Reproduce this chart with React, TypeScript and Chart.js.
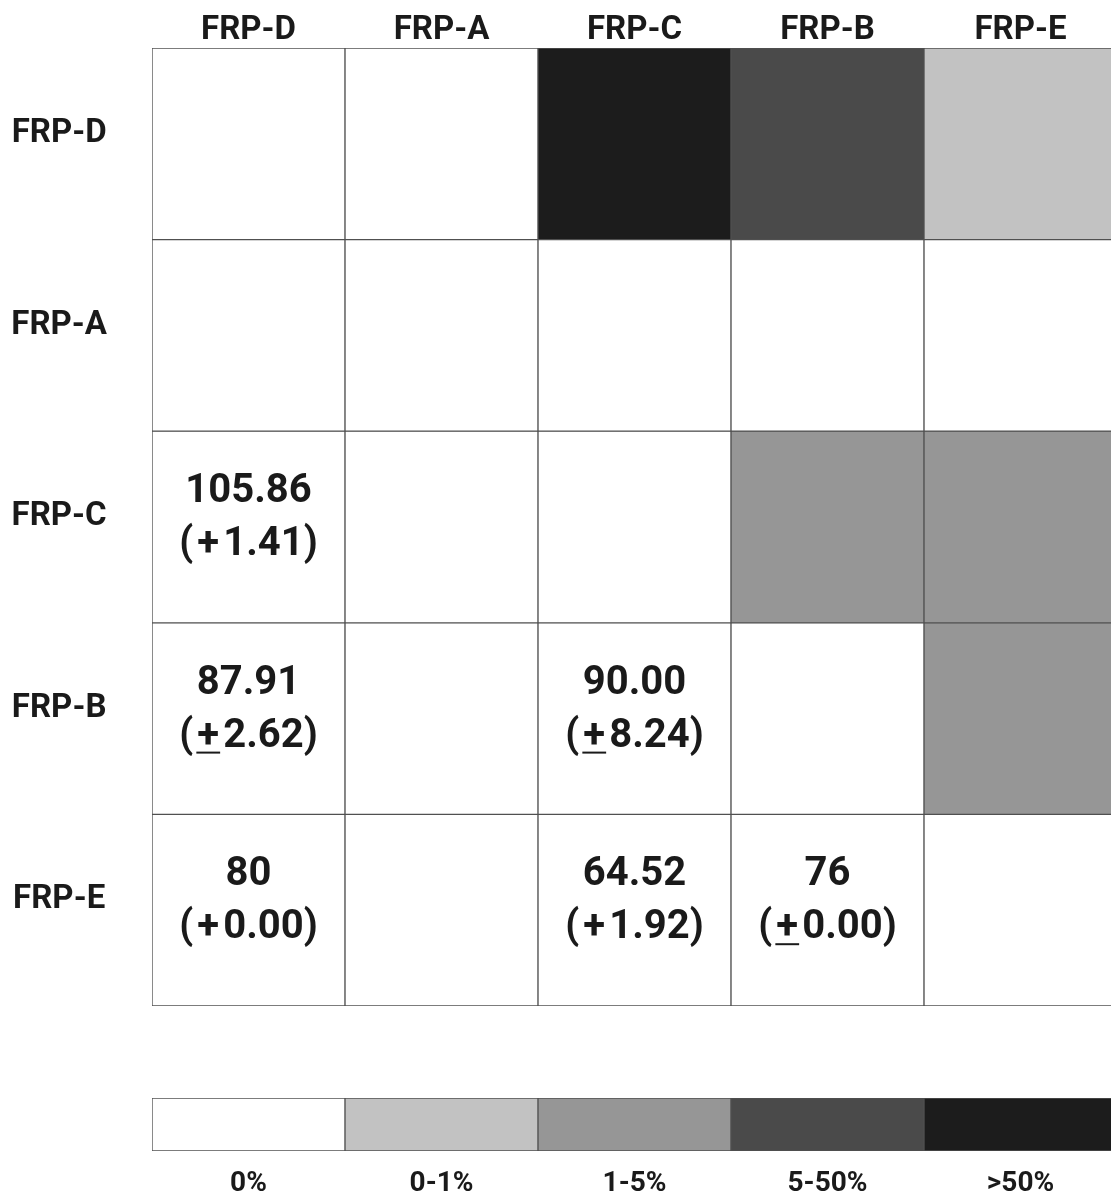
import React, { useEffect, useRef } from "react";
import { Chart, registerables } from "chart.js";

Chart.register(...registerables);

// ---- data ----
const categories = ["FRP-D", "FRP-A", "FRP-C", "FRP-B", "FRP-E"];
const levelLabels = ["0%", "0-1%", "1-5%", "5-50%", ">50%"];

// level index per cell (0 = 0%, 1 = 0-1%, 2 = 1-5%, 3 = 5-50%, 4 = >50%)
const rowD = [0, 0, 4, 3, 1];
const rowA = [0, 0, 0, 0, 0];
const rowC = [0, 0, 0, 2, 2];
const rowB = [0, 0, 0, 0, 2];
const rowE = [0, 0, 0, 0, 0];
const levelRows = [rowD, rowA, rowC, rowB, rowE];

// annotated cells (lower triangle)
const textRows = ["FRP-C", "FRP-B", "FRP-B", "FRP-E", "FRP-E", "FRP-E"];
const textCols = ["FRP-D", "FRP-D", "FRP-C", "FRP-D", "FRP-C", "FRP-B"];
const textMeans = ["105.86", "87.91", "90.00", "80", "64.52", "76"];
const textDevs = ["1.41", "2.62", "8.24", "0.00", "1.92", "0.00"];
const textPlusMinus = [false, true, true, false, false, true];

// ---- styles ----
const levelColors = ["#ffffff", "#c2c2c2", "#969696", "#4a4a4a", "#1c1c1c"];
const FONT = "Roboto, 'Liberation Sans', sans-serif";
const TEXT_COLOR = "#1a1a1a";
const HS = "\u200A";

const cellTextPlugin = {
  id: "cellText",
  afterDatasetsDraw(chart: any) {
    const ctx = chart.ctx;
    ctx.save();
    ctx.fillStyle = TEXT_COLOR;
    ctx.strokeStyle = TEXT_COLOR;
    ctx.font = `bold 40px ${FONT}`;
    ctx.textBaseline = "middle";
    for (let i = 0; i < textMeans.length; i++) {
      const r = categories.indexOf(textRows[i]);
      const c = categories.indexOf(textCols[i]);
      const el: any = chart.getDatasetMeta(r).data[c];
      if (!el) continue;
      const cx = el.x;
      const cy = (el.y + el.base) / 2;
      ctx.textAlign = "center";
      ctx.fillText(textMeans[i], cx, cy - 35);
      const pre = "(" + HS;
      const plus = "+";
      const line2 = pre + plus + HS + textDevs[i] + ")";
      const w = ctx.measureText(line2).width;
      const x0 = cx - w / 2;
      ctx.textAlign = "left";
      ctx.fillText(line2, x0, cy + 18);
      if (textPlusMinus[i]) {
        const wa = ctx.measureText(pre).width;
        const wb = ctx.measureText(pre + plus).width;
        ctx.lineWidth = 2;
        ctx.beginPath();
        ctx.moveTo(x0 + wa - 1, cy + 34);
        ctx.lineTo(x0 + wb + 1, cy + 34);
        ctx.stroke();
      }
    }
    ctx.restore();
  },
};

export default function App() {
  const mainRef = useRef<HTMLCanvasElement>(null);
  const legRef = useRef<HTMLCanvasElement>(null);

  useEffect(() => {
    const datasets = levelRows.map((row, i) => ({
      label: categories[i],
      data: row.map(() => 1),
      backgroundColor: row.map((lv) => levelColors[lv]),
      borderColor: "#505050",
      borderWidth: 1,
      borderSkipped: false,
      barPercentage: 1,
      categoryPercentage: 1,
    }));

    const main = new Chart(mainRef.current!, {
      type: "bar",
      data: { labels: categories, datasets },
      plugins: [cellTextPlugin],
      options: {
        responsive: false,
        animation: false,
        layout: { padding: { top: 0, left: 0, right: 3, bottom: 4 } },
        plugins: { legend: { display: false }, tooltip: { enabled: false } },
        scales: {
          x: {
            position: "top",
            stacked: true,
            grid: { display: false, drawTicks: false },
            border: { display: false },
            ticks: {
              color: TEXT_COLOR,
              font: { family: FONT, size: 33, weight: "bold" },
              padding: -3,
              maxRotation: 0,
            },
            afterFit(axis: any) {
              axis.height = 48;
              axis.paddingLeft = 0;
              axis.paddingRight = 0;
            },
          },
          y: {
            stacked: true,
            reverse: true,
            min: 0,
            max: 5,
            grid: { display: false, drawTicks: false },
            border: { display: false },
            afterBuildTicks(axis: any) {
              axis.ticks = categories.map((_, i) => ({ value: i + 0.5 }));
            },
            ticks: {
              color: TEXT_COLOR,
              font: { family: FONT, size: 33, weight: "bold" },
              crossAlign: "center",
              padding: 45,
              labelOffset: -10,
              callback: (v: any) => categories[Math.floor(Number(v))] ?? "",
            },
            afterFit(axis: any) {
              axis.width = 152;
              axis.paddingTop = 0;
              axis.paddingBottom = 0;
            },
          },
        },
      },
    });

    const legend = new Chart(legRef.current!, {
      type: "bar",
      data: {
        labels: levelLabels,
        datasets: [
          {
            data: levelLabels.map(() => 1),
            backgroundColor: levelColors,
            borderColor: "#505050",
            borderWidth: 1,
            borderSkipped: false,
            barPercentage: 1,
            categoryPercentage: 1,
          },
        ],
      },
      options: {
        responsive: false,
        animation: false,
        layout: { padding: { top: 8, left: 0, right: 3, bottom: 0 } },
        plugins: { legend: { display: false }, tooltip: { enabled: false } },
        scales: {
          x: {
            grid: { display: false, drawTicks: false },
            border: { display: false },
            ticks: {
              color: TEXT_COLOR,
              font: { family: FONT, size: 28, weight: "bold" },
              padding: 16,
              maxRotation: 0,
            },
            afterFit(axis: any) {
              axis.height = 44;
              axis.paddingLeft = 0;
              axis.paddingRight = 0;
            },
          },
          y: {
            display: true,
            min: 0,
            max: 1,
            grid: { display: false, drawTicks: false },
            border: { display: false },
            ticks: { display: false },
            afterFit(axis: any) {
              axis.width = 152;
              axis.paddingTop = 0;
              axis.paddingBottom = 0;
            },
          },
        },
      },
    });

    return () => {
      main.destroy();
      legend.destroy();
    };
  }, []);

  return (
    <div
      style={{
        position: "absolute",
        left: 0,
        top: 0,
        width: 1111,
        height: 1195,
        overflow: "hidden",
        background: "#ffffff",
      }}
    >
      <canvas
        ref={mainRef}
        width={1120}
        height={1010}
        style={{ position: "absolute", left: 0, top: 0 }}
      />
      <canvas
        ref={legRef}
        width={1120}
        height={105}
        style={{ position: "absolute", left: 0, top: 1090 }}
      />
    </div>
  );
}
